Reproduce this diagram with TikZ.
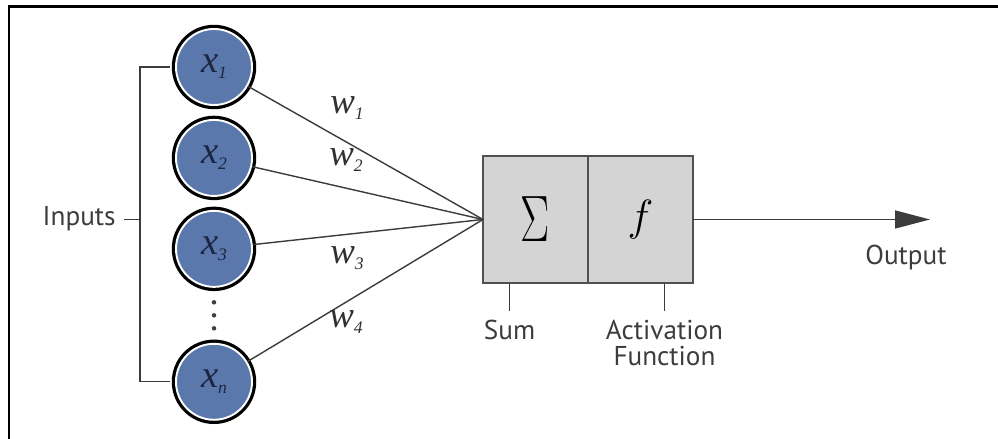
\documentclass[tikz,border=0pt]{standalone}
\usepackage{fontspec}
\usepackage{graphicx}
\setmainfont{Liberation Serif}
\newfontfamily\labelfont{PT Sans}
\usetikzlibrary{arrows.meta,positioning,calc}
\definecolor{NodeBlue}{RGB}{90,120,172}
\definecolor{NodeText}{RGB}{28,38,66}
\definecolor{Wire}{RGB}{60,60,60}
\definecolor{BoxFill}{RGB}{212,212,212}
\definecolor{BoxEdge}{RGB}{80,80,80}
\definecolor{LabelGray}{RGB}{60,60,60}
\newcommand{\idx}[1]{\raisebox{-0.35ex}{\fontsize{10}{10}\selectfont #1}}
\tikzset{
  inputnode/.style={circle,fill=NodeBlue,draw=white,line width=1.1pt,preaction={draw=black,line width=4.8pt},minimum size=1.52cm,inner sep=0pt,text=NodeText,font=\fontsize{22}{22}\selectfont\itshape},
  unitbox/.style={draw=BoxEdge,fill=BoxFill,line width=0.7pt,minimum width=2.1cm,minimum height=2.54cm,inner sep=0pt,outer sep=0pt},
  wire/.style={draw=Wire,line width=0.8pt},
  wlabel/.style={text=LabelGray!80!black,font=\fontsize{21}{21}\selectfont\itshape},
  tagtext/.style={text=LabelGray,font=\labelfont\fontsize{15.5}{14.5}\selectfont,inner sep=0pt,align=center},
  outarrow/.style={wire,-{Triangle[length=0.7cm,width=0.36cm]}},
  pageframe/.style={draw=black,line width=1.7pt}
}
\begin{document}
\begin{tikzpicture}
\useasboundingbox (0,0) rectangle (19.96,8.78);
\draw[pageframe] (19.96,8.64) -- (0.18,8.64) -- (0.18,0);
% inputs
\node[inputnode] (x1) at (4.28,7.44) {x\idx{1}};
\node[inputnode,below=0.26cm of x1] (x2) {x\idx{2}};
\node[inputnode,below=0.26cm of x2] (x3) {x\idx{3}};
\node[inputnode,below=1.1cm of x3] (xn) {x\idx{n}};
\foreach \d in {-1,0,1}
  \fill[black!75] ($(x3)!0.5!(xn)+(0,\d*0.26)$) circle (0.045);
\coordinate (brk) at (2.80,4.39);
\node[tagtext,anchor=base east] (inputs) at (2.32,4.26) {Inputs};
\draw[wire,shorten <=3pt,shorten >=3pt] (x1.west) -| (brk) |- (xn.west);
\draw[wire,shorten <=0.16cm] (inputs.east |- brk) -- (brk);
% unit
\node[unitbox] (sumbox) at (10.71,4.39) {\scalebox{1}[1.5]{\fontsize{26}{26}\selectfont$\Sigma$}};
\node[unitbox,right=0pt of sumbox] (actbox) {\fontsize{30}{30}\selectfont$f$};
\foreach \i in {x1,x2,x3,xn}
  \draw[wire] (\i) -- (sumbox.west);
\node[wlabel] (w1) at (6.94,6.62) {w\idx{1}};
\node[wlabel] (w2) at (6.92,5.58) {w\idx{2}};
\node[wlabel] (w3) at (6.94,3.62) {w\idx{3}};
\node[wlabel] (w4) at (6.92,2.34) {w\idx{4}};
% labels under the unit
\node[tagtext,anchor=north] (sumlabel) at ([xshift=-0.52cm,yshift=-0.74cm]sumbox.south) {Sum};
\node[tagtext,anchor=north] (actlabel) at ([xshift=0.48cm,yshift=-0.74cm]actbox.south) {Activation\\Function};
\draw[wire,shorten <=0.18cm] (sumlabel.north) -- (sumlabel.north |- sumbox.south);
\draw[wire,shorten <=0.18cm] (actlabel.north) -- (actlabel.north |- actbox.south);
% output
\coordinate (outend) at (18.6,4.39);
\draw[outarrow] (actbox.east) -- (outend);
\node[tagtext,anchor=base] (outlabel) at (18.12,3.48) {Output};
\end{tikzpicture}
\end{document}
